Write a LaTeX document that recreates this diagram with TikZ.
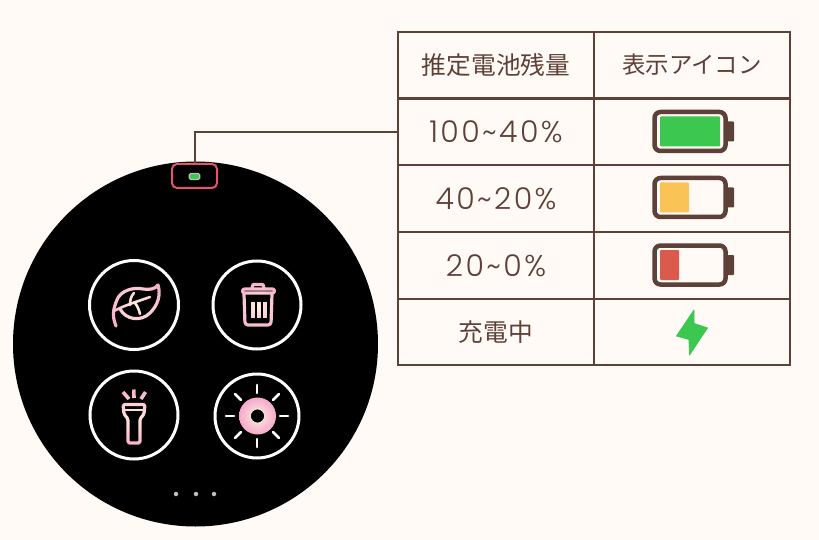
\documentclass[tikz,border=0pt]{standalone}
\usepackage{fontspec}
\setmainfont{Noto Sans CJK JP}
\newfontfamily\digitfont[LetterSpace=8]{Poppins Light}
\definecolor{paper}{HTML}{FFFAF5}
\definecolor{umber}{HTML}{5D4037}
\definecolor{rosered}{HTML}{E0566F}
\definecolor{pinkline}{HTML}{F5A8CC}
\definecolor{creamline}{HTML}{FFF0DC}
\definecolor{fullgreen}{HTML}{3CC850}
\definecolor{midyellow}{HTML}{FAC355}
\definecolor{lowred}{HTML}{DC5A4B}
\begin{document}
\begin{tikzpicture}[x=1pt,y=-1pt]
	\tikzstyle{Cell} = [rectangle, draw=umber, line width=2pt, minimum width=196pt, minimum height=66.7pt, inner sep=0pt, text=umber, font=\fontsize{24.7}{28}\selectfont]
	\tikzstyle{Percent} = [Cell, font=\digitfont\fontsize{30}{34}\selectfont]
	\tikzstyle{Ring} = [circle, draw=white, line width=3pt, inner sep=0pt, fill=black]
	\tikzstyle{Body} = [rectangle, rounded corners=6pt, draw=umber, line width=4.5pt, minimum width=71pt, minimum height=39pt, inner sep=0pt, fill=paper]
	\tikzstyle{Cap} = [rectangle, rounded corners=1pt, fill=umber, minimum width=7pt, minimum height=20pt, inner sep=0pt]
	\tikzstyle{Level} = [rectangle, rounded corners=1pt, minimum height=30pt, inner sep=0pt]
	\tikzstyle{Icon} = [white, line width=3.2pt, line cap=round, line join=round]
	\tikzstyle{Tint} = [inner color=creamline, outer color=pinkline, blend mode=multiply]
	\tikzstyle{Dot} = [circle, fill=lightgray, minimum size=4.5pt, inner sep=0pt]

	\fill[paper] (0,0) rectangle (819,540);
	\useasboundingbox (0,0) rectangle (819,540);

	% watch face
	\node (face) at (195.5,344) [circle, fill=black, minimum size=365pt, inner sep=0pt] {};
	\node (indicator) at (194.5,176) [rectangle, rounded corners=5pt, draw=rosered, line width=2pt, minimum width=45pt, minimum height=24pt, inner sep=0pt] {};
	\node (miniBody) at (194.5,176.5) [rectangle, rounded corners=1.5pt, draw=lightgray, line width=1.2pt, fill=fullgreen, minimum width=10.5pt, minimum height=6pt, inner sep=0pt] {};

	% table
	\node (headLevel) at (496,65) [Cell] {\raisebox{-1.5pt}{推定電池残量}};
	\node (headIcon) at (692,65) [Cell, font=\fontsize{23.4}{28}\selectfont] {\raisebox{-1.5pt}{表示アイコン}};
	\node (cellA) at (496,132) [Percent] {\raisebox{-1pt}{100\textasciitilde 40\%}};
	\node (iconA) at (692,132) [Cell] {};
	\node (cellB) at (496,198.7) [Percent] {\raisebox{-1pt}{40\textasciitilde 20\%}};
	\node (iconB) at (692,198.7) [Cell] {};
	\node (cellC) at (496,265.4) [Percent] {\raisebox{-1pt}{20\textasciitilde 0\%}};
	\node (iconC) at (692,265.4) [Cell] {};
	\node (cellD) at (496,332.1) [Cell] {\raisebox{-1.5pt}{充電中}};
	\node (iconD) at (692,332.1) [Cell] {};
	\draw [umber, line width=2pt] (cellA.west) -| (indicator.north);

	% batteries
	\node (bodyA) at (690,131.5) [Body] {};
	\node (capA) at (730.5,131.5) [Cap] {};
	\node (levelA) at (660,131.5) [Level, anchor=west, fill=fullgreen, minimum width=60pt] {};
	\node (bodyB) at (690,197.5) [Body] {};
	\node (capB) at (730.5,197.5) [Cap] {};
	\node (levelB) at (660,197.5) [Level, anchor=west, fill=midyellow, minimum width=29pt] {};
	\node (bodyC) at (690,265) [Body] {};
	\node (capC) at (730.5,265) [Cap] {};
	\node (levelC) at (660,265) [Level, anchor=west, fill=lowred, minimum width=19pt] {};
	\fill[fullgreen, draw=fullgreen, line width=.8pt, line join=round] (694,310) -- (676.5,336) -- (689,339.5) -- (689.5,355) -- (707.5,328) -- (694,323.5) -- cycle;

	% leaf
	\node (leafRing) at (134,305) [Ring, minimum size=89pt] {};
	\draw[Icon] (116,326) .. controls (112,316) and (113,310) .. (116.5,301) .. controls (120,290) and (134,287) .. (143,289) .. controls (150,290) and (155,289) .. (158,285) .. controls (161,295) and (158,305) .. (150,313) .. controls (141,322) and (126,320) .. (120,309);
	\draw[Icon, line width=2.6pt] (114,311) .. controls (125,305) and (139,301) .. (150,297);
	\draw[Icon, line width=2.6pt] (130,305) .. controls (130,300) and (131,296) .. (134,293);
	\draw[Icon, line width=2.6pt] (135,303) .. controls (138,307) and (139,310) .. (140,314);
	\shade[Tint] (136,305) circle (31);

	% trash can
	\node (trashRing) at (257,305) [Ring, minimum size=88pt] {};
	\draw[Icon, rounded corners=2pt] (242.5,293) rectangle (274.5,289);
	\draw[Icon] (252,288) -- (253,284.5) -- (263,284.5) -- (264,288);
	\draw[Icon, rounded corners=3pt] (244,294) -- (245,325) -- (271,325) -- (272,294);
	\draw[Icon, line width=4.2pt, line cap=butt] (252.7,302) -- (252.7,318) (258.7,302) -- (258.7,318) (264.7,302) -- (264.7,318);
	\shade[Tint] (258,306) circle (27);

	% flashlight
	\node (torchRing) at (134,415) [Ring, minimum size=88pt] {};
	\draw[Icon, rounded corners=1.5pt] (123,404.5) -- (145,404.5) -- (144,414) -- (140,419) -- (140,443) -- (128,443) -- (128,419) -- (124,414) -- cycle;
	\draw[Icon, line width=2pt] (125,410) -- (143,410);
	\draw[Icon, line width=3.6pt, line cap=butt] (123,392) -- (129,399) (133.8,389.5) -- (134,398) (145.5,392) -- (141,399);
	\shade[Tint] (134,417) circle (32);

	% brightness
	\node (sunRing) at (257,416) [Ring, minimum size=84pt] {};
	\draw[Icon, line width=2.6pt] (257,385) -- (257,393) (257,439) -- (257,447) (226,416) -- (234,416) (280,416) -- (288,416);
	\draw[Icon, line width=2.6pt] (235,394) -- (241,400) (273,432) -- (279,438) (235,438) -- (241,432) (273,400) -- (279,394);
	\shade[inner color=creamline, outer color=pinkline] (257.5,416) circle (18.5);
	\node (sunCore) at (257.5,416) [circle, fill=black, minimum size=14pt, inner sep=0pt, draw=white, line width=.6pt] {};

	% page dots
	\node (dotA) at (176,494) [Dot] {};
	\node (dotB) at (196,494) [Dot] {};
	\node (dotC) at (214,494) [Dot] {};
\end{tikzpicture}
\end{document}
